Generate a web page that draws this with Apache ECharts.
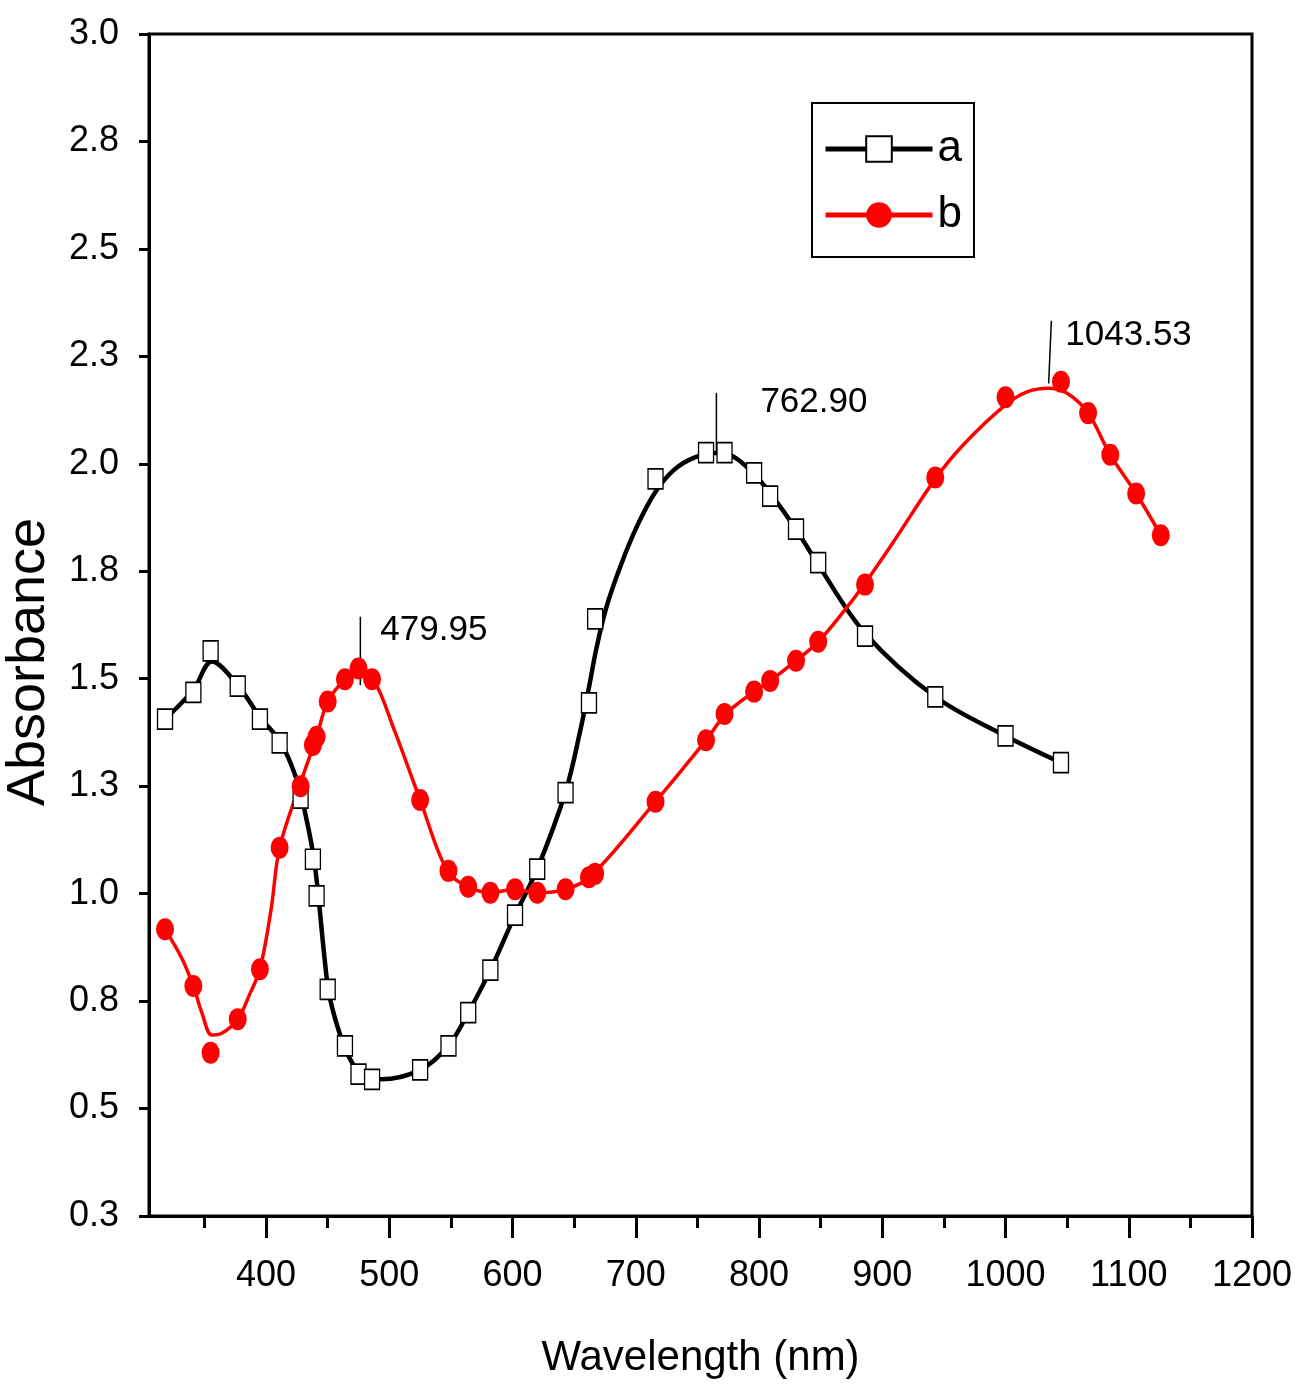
<!DOCTYPE html>
<html>
<head>
<meta charset="utf-8">
<title>Absorbance</title>
<script src="https://cdn.jsdelivr.net/npm/echarts@6/dist/echarts.min.js"></script>
<style>
    html, body { margin: 0; padding: 0; background: #fff; }
    #chart { width: 1295px; height: 1390px; }
</style>
</head>
<body>
<div id="chart"></div>
<script>
// measured points (wavelength shared by both samples, a stops at 1045)
const wavelength = [318, 341, 355, 377, 395, 411, 428, 438, 441, 450, 464, 475, 486, 525, 548, 564, 582, 602, 620, 643, 662, 667, 716, 757, 772, 796, 809, 830, 848, 886, 943, 1000, 1045, 1067, 1085, 1106, 1126];
const absA = [1.406, 1.468, 1.565, 1.483, 1.406, 1.351, 1.222, 1.080, 0.995, 0.777, 0.646, 0.580, 0.568, 0.590, 0.646, 0.723, 0.822, 0.950, 1.057, 1.235, 1.444, 1.639, 1.965, 2.026, 2.026, 1.979, 1.925, 1.848, 1.770, 1.599, 1.458, 1.367, 1.305];
const absB = [0.917, 0.785, 0.630, 0.708, 0.824, 1.107, 1.250, 1.346, 1.365, 1.447, 1.499, 1.524, 1.499, 1.218, 1.053, 1.016, 1.002, 1.010, 1.002, 1.010, 1.038, 1.046, 1.214, 1.357, 1.418, 1.470, 1.495, 1.542, 1.586, 1.719, 1.968, 2.155, 2.191, 2.118, 2.021, 1.931, 1.834];

// fitted curves
const curveAx = [318, 341, 356, 377, 395, 412, 425, 433, 439, 443, 447, 451, 458, 467, 478, 493, 525, 548, 564, 582, 602, 620, 643, 655, 662, 668, 676, 688, 701, 716, 731, 747, 765, 779, 795, 809, 830, 847, 886, 943, 1000, 1045];
const curveAy = [1.406, 1.474, 1.540, 1.485, 1.411, 1.351, 1.264, 1.170, 1.078, 0.978, 0.862, 0.769, 0.690, 0.621, 0.578, 0.568, 0.590, 0.646, 0.723, 0.822, 0.950, 1.057, 1.237, 1.380, 1.480, 1.570, 1.665, 1.765, 1.855, 1.935, 1.986, 2.014, 2.025, 2.017, 1.979, 1.932, 1.848, 1.770, 1.606, 1.458, 1.367, 1.305];
const curveBx = [318, 331, 341, 348, 356, 364, 377, 387, 395, 404, 411, 427, 441, 450, 464, 475, 487, 504, 525, 547, 564, 582, 602, 620, 643, 663, 716, 757, 773, 796, 809, 830, 848, 871, 886, 909, 943, 966, 1000, 1018, 1035, 1050, 1067, 1085, 1106, 1126];
const curveBy = [0.917, 0.853, 0.785, 0.722, 0.671, 0.675, 0.708, 0.768, 0.824, 0.962, 1.107, 1.250, 1.365, 1.447, 1.499, 1.520, 1.499, 1.381, 1.218, 1.053, 1.016, 1.002, 1.010, 1.002, 1.010, 1.039, 1.214, 1.357, 1.418, 1.470, 1.495, 1.542, 1.586, 1.665, 1.722, 1.818, 1.965, 2.045, 2.137, 2.168, 2.176, 2.164, 2.118, 2.021, 1.931, 1.834];

// peak annotations
const peakText = ['479.95', '762.90', '1043.53'];
const peakLineX = [[476.5, 476.5], [765.4, 765.4], [1037.2, 1035.0]];
const peakLineY = [[1.644, 1.485], [2.165, 2.021], [2.333, 2.187]];
const peakLabelX = [492.7, 801.1, 1048.5];
const peakLabelY = [1.613, 2.144, 2.300];

const xMajorTicks = [400, 500, 600, 700, 800, 900, 1000, 1100, 1200];
const xMinorTicks = [350, 450, 550, 650, 750, 850, 950, 1050, 1150];

const font = '"Liberation Sans", Arial, sans-serif';
const zip = (xs, ys) => ys.map((y, i) => [xs[i], y]);

const chart = echarts.init(document.getElementById('chart'));

let series = [
    {
        name: 'curveA', type: 'line', data: zip(curveAx, curveAy),
        smooth: 0.35, showSymbol: false, silent: true,
        lineStyle: { color: '#000', width: 4.5 }
    },
    {
        name: 'a', type: 'line', data: zip(wavelength, absA),
        symbol: 'rect', symbolSize: [15, 20],
        itemStyle: { color: '#fff', borderColor: '#000', borderWidth: 1.5 },
        lineStyle: { color: '#000', width: 4.5, opacity: 0 }
    },
    {
        name: 'curveB', type: 'line', data: zip(curveBx, curveBy),
        smooth: 0.35, showSymbol: false, silent: true,
        lineStyle: { color: '#ff0000', width: 3.5 }
    },
    {
        name: 'b', type: 'line', data: zip(wavelength, absB),
        symbol: 'circle', symbolSize: [18, 22],
        itemStyle: { color: '#ff0000' },
        lineStyle: { color: '#ff0000', width: 4.5, opacity: 0 }
    }
];

for (let i = 0; i < peakText.length; i++) {
    series.push({
        type: 'line', data: zip(peakLineX[i], peakLineY[i]),
        showSymbol: false, silent: true,
        lineStyle: { color: '#000', width: 1.5 }
    });
}

series.push({
    type: 'scatter', symbolSize: 0, silent: true,
    itemStyle: { opacity: 1 },
    data: peakText.map((t, i) => [peakLabelX[i], peakLabelY[i], t]),
    label: {
        show: true, position: 'right', distance: 0,
        formatter: p => p.value[2],
        color: '#000', fontSize: 35, fontFamily: font
    }
});

chart.setOption({
    backgroundColor: '#fff',
    animation: false,
    grid: {
        left: 149, right: 43, top: 34, bottom: 174,
        containLabel: false, outerBoundsMode: 'none',
        show: true, borderColor: '#000', borderWidth: 3
    },
    legend: {
        orient: 'vertical',
        left: 812, top: 103,
        padding: [24, 12, 20, 11],
        itemGap: 22,
        itemWidth: 107, itemHeight: 32,
        backgroundColor: '#fff',
        borderColor: '#000', borderWidth: 2,
        textStyle: { fontSize: 44, fontFamily: font, color: '#000' },
        data: [
            { name: 'a', lineStyle: { opacity: 1, width: 5 } },
            { name: 'b', lineStyle: { opacity: 1, width: 5 } }
        ]
    },
    xAxis: [
        {
            type: 'value', min: 305, max: 1200,
            name: 'Wavelength (nm)', nameLocation: 'middle', nameGap: 121,
            nameTextStyle: { fontSize: 42, fontFamily: font, color: '#000' },
            axisLine: { lineStyle: { color: '#000', width: 3 } },
            axisTick: { length: 22, lineStyle: { width: 3 }, customValues: xMajorTicks },
            axisLabel: {
                customValues: xMajorTicks, margin: 42, fontSize: 36, fontFamily: font, color: '#000',
                formatter: v => String(v)
            },
            splitLine: { show: false }
        },
        {
            type: 'value', min: 305, max: 1200, position: 'bottom',
            axisLine: { show: false },
            axisTick: { length: 12, lineStyle: { width: 3, color: '#000' }, customValues: xMinorTicks },
            axisLabel: { show: false },
            splitLine: { show: false }
        }
    ],
    yAxis: {
        type: 'value', min: 0.25, max: 3.0, interval: 0.25,
        name: 'Absorbance', nameLocation: 'middle', nameGap: 93,
        nameTextStyle: { fontSize: 54, fontFamily: font, color: '#000', padding: [0, 74, 0, 0] },
        axisLine: { lineStyle: { color: '#000', width: 3 } },
        axisTick: { length: 10, lineStyle: { width: 3 } },
        axisLabel: {
            margin: 30, fontSize: 36, fontFamily: font, color: '#000',
            formatter: v => v.toFixed(1)
        },
        splitLine: { show: false }
    },
    series: series
});
</script>
</body>
</html>
